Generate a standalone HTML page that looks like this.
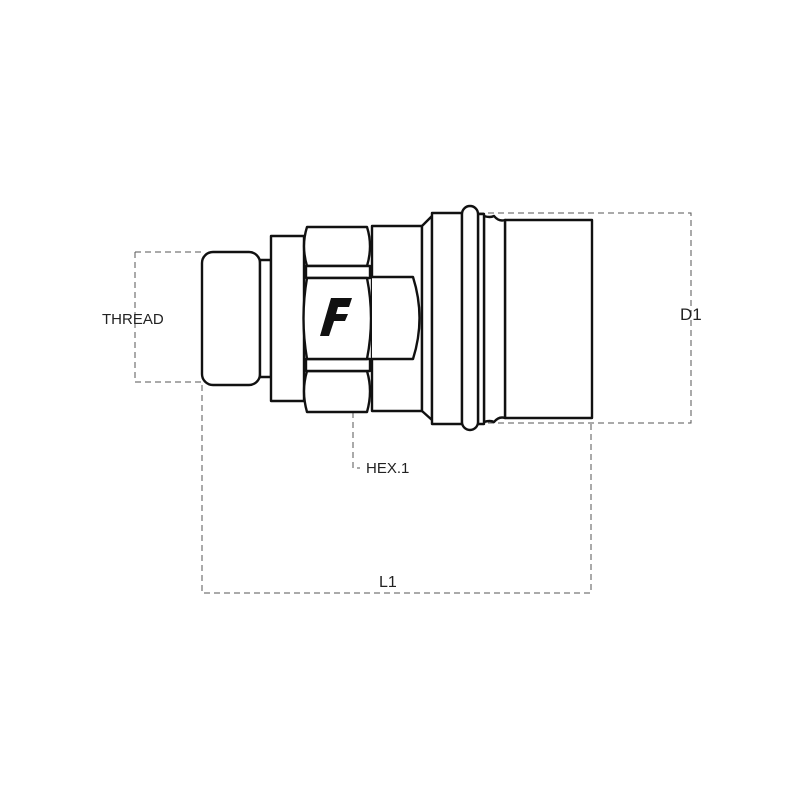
<!DOCTYPE html>
<html><head><style>body{margin:0;background:#fff}svg{display:block}</style></head><body>
<svg width="800" height="800" viewBox="0 0 800 800" xmlns="http://www.w3.org/2000/svg">
<g fill="none" stroke="#555" stroke-width="1" stroke-dasharray="6,4">
<path d="M135 252H202M135 382H202M135 252V382"/>
<path d="M478 213H691V423H478"/>
<path d="M202 385V593H591V423"/>
<path d="M353 412V468H360"/>
</g>
<g fill="#fff" stroke="#111" stroke-width="2.4" stroke-linejoin="round">
<rect x="202" y="252" width="58" height="133" rx="11"/>
<rect x="260" y="260" width="11" height="117"/>
<rect x="271" y="236" width="33" height="165"/>
<path d="M307 227H367Q373 246 367 266H307Q301 246 307 227Z"/>
<path d="M307 371H367Q373 391 367 412H307Q301 391 307 371Z"/>
<path d="M306 266H370V278H306Z"/>
<path d="M306 359H370V371H306Z"/>
<path d="M307 278H367Q375 318 367 359H307Q300 318 307 278Z"/>
<rect x="372" y="226" width="50" height="185"/>
<path d="M372 277H413Q426 318 413 359H372"/>
<path d="M422 226L432 216V420L422 411Z"/>
<rect x="432" y="213" width="30" height="211"/>
<rect x="505" y="220" width="87" height="198"/>
<path d="M484 216Q490 218 494 216Q499 222 505 220V418Q499 416 494 422Q490 420 484 422Z"/>
<rect x="478" y="214" width="6" height="210"/>
<rect x="462" y="206" width="16" height="224" rx="8"/>
</g>
<path d="M331 298H352L349 307H338L336 314H348L345 321H334L329 336H320Z" fill="#111"/>
<g font-family="Liberation Sans, sans-serif" font-size="15" fill="#222">
<text x="102" y="324">THREAD</text>
<text x="366" y="473">HEX.1</text>
<text x="680" y="320" font-size="17">D1</text>
<text x="379" y="587" font-size="16">L1</text>
</g>
</svg>
</body></html>
